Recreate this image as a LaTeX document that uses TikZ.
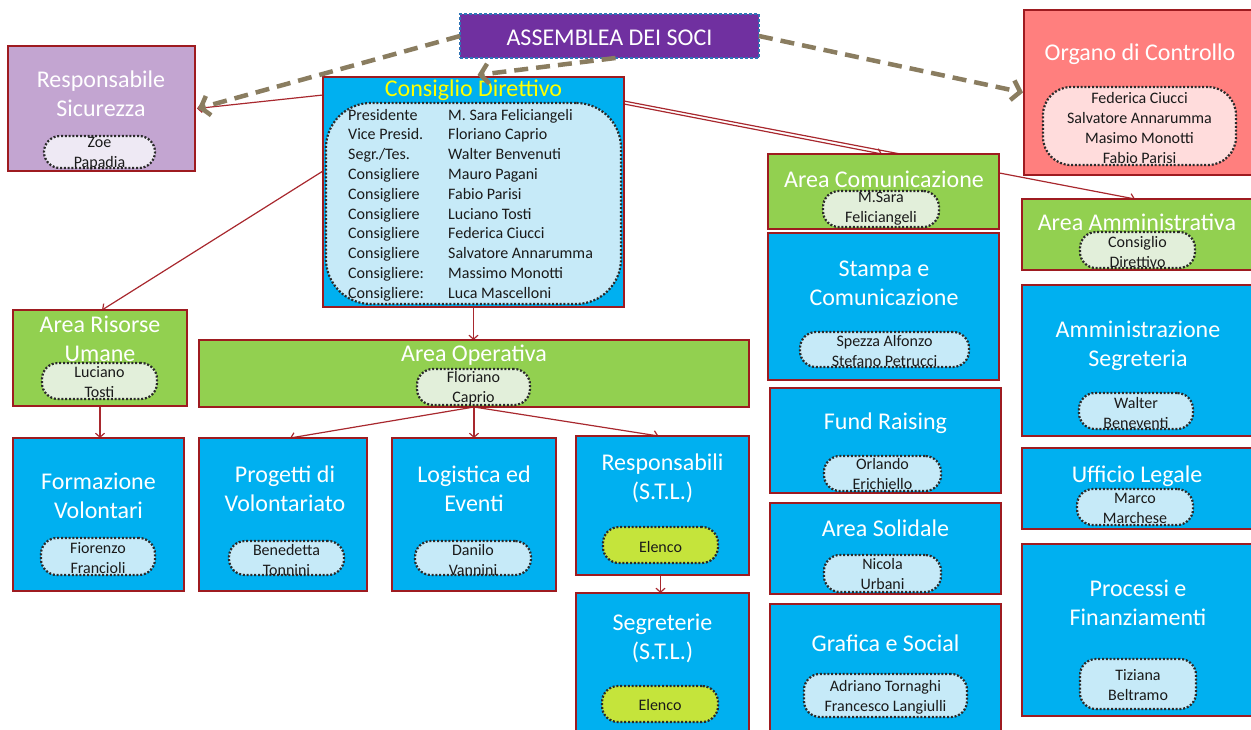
\documentclass[tikz,border=0pt]{standalone}
\usepackage{fontspec}
\setmainfont{Carlito}
\usetikzlibrary{arrows.meta}
\definecolor{cblue}{HTML}{00B0F0}
\definecolor{cgreen}{HTML}{92D050}
\definecolor{cborder}{HTML}{9E1B20}
\definecolor{cpurple}{HTML}{7030A0}
\definecolor{cdblue}{HTML}{2E75B6}
\definecolor{clav}{HTML}{C3A5D1}
\definecolor{csalmon}{HTML}{FF7F7E}
\definecolor{cpblue}{HTML}{C6EAF8}
\definecolor{cpgreen}{HTML}{E2EFDA}
\definecolor{cppink}{HTML}{FFDCDC}
\definecolor{cplav}{HTML}{EEE9F4}
\definecolor{celenco}{HTML}{C5E43B}
\definecolor{cdot}{HTML}{2A2A2A}
\definecolor{ctext}{HTML}{1A1A1A}
\definecolor{cline}{HTML}{A8282E}
\definecolor{cdash}{HTML}{8A7D60}
\definecolor{cyel}{HTML}{FFFF00}
\pgfdeclarelayer{bg}
\pgfsetlayers{bg,main}
\begin{document}
\begin{tikzpicture}[x=1pt,y=-1pt,
  box/.style={draw=cborder, line width=2.8pt, inner sep=0pt, outer sep=0pt, rectangle},
  ttl/.style={text=white, font=\fontsize{24}{29}\selectfont, align=center, inner sep=0pt},
  pill/.style={draw=cdot, line width=2.2pt, dash pattern=on 2pt off 1.8pt, rounded corners=16pt, inner sep=0pt, outer sep=0pt},
  ptxt/.style={text=ctext, font=\fontsize{16}{20}\selectfont, align=center, inner sep=0pt},
  rowtxt/.style={text=ctext, font=\fontsize{16}{20}\selectfont, inner sep=0pt, anchor=base west},
  conn/.style={draw=cline, line width=1.2pt, -{Straight Barb[length=4pt,width=9pt]}},
  socarrow/.style={draw=cdash, line width=4.5pt, dash pattern=on 14pt off 8pt, -{Straight Barb[length=8pt,width=20pt]}}
]
\useasboundingbox (0,0) rectangle (1251,729);
\clip (0,0) rectangle (1251,729);

% ---------- top ----------
\node[box, fill=cpurple, draw=cdblue, line width=1.5pt, dash pattern=on 3pt off 2pt, minimum width=299pt, minimum height=44pt] (assem) at (609.5,36) {};
\node[ttl] (assemT) at (609.5,38) {ASSEMBLEA DEI SOCI};

\node[box, fill=clav, minimum width=187pt, minimum height=125pt] (sicur) at (101.5,108.5) {};
\node[ttl] (sicurT) at (101,93.5) {Responsabile\\Sicurezza};
\node[pill, fill=cplav, minimum width=111pt, minimum height=32pt] (sicurP) at (99.5,152) {};
\node[ptxt] (sicurPT) at (99.5,154) {Zoe\\Papadia};

\node[box, fill=cblue, minimum width=301pt, minimum height=230pt] (consiglio) at (473.5,192) {};
\node[ttl, text=cyel] (consiglioT) at (473.5,90) {Consiglio Direttivo};
\node[pill, fill=cpblue, rounded corners=45pt, minimum width=295pt, minimum height=201pt] (consiglioP) at (473.5,203.5) {};
\node[rowtxt] (r1) at (348,120) {Presidente};
\node[rowtxt] (r2) at (348,139.8) {Vice Presid.};
\node[rowtxt] (r3) at (348,159.6) {Segr./Tes.};
\node[rowtxt] (r4) at (348,179.4) {Consigliere};
\node[rowtxt] (r5) at (348,199.2) {Consigliere};
\node[rowtxt] (r6) at (348,219) {Consigliere};
\node[rowtxt] (r7) at (348,238.8) {Consigliere};
\node[rowtxt] (r8) at (348,258.6) {Consigliere};
\node[rowtxt] (r9) at (348,278.4) {Consigliere:};
\node[rowtxt] (r10) at (348,298.2) {Consigliere:};
\node[rowtxt] (n1) at (448,120) {M. Sara Feliciangeli};
\node[rowtxt] (n2) at (448,139.8) {Floriano Caprio};
\node[rowtxt] (n3) at (448,159.6) {Walter Benvenuti};
\node[rowtxt] (n4) at (448,179.4) {Mauro Pagani};
\node[rowtxt] (n5) at (448,199.2) {Fabio Parisi};
\node[rowtxt] (n6) at (448,219) {Luciano Tosti};
\node[rowtxt] (n7) at (448,238.8) {Federica Ciucci};
\node[rowtxt] (n8) at (448,258.6) {Salvatore Annarumma};
\node[rowtxt] (n9) at (448,278.4) {Massimo Monotti};
\node[rowtxt] (n10) at (448,298.2) {Luca Mascelloni};

\node[box, fill=csalmon, minimum width=232pt, minimum height=165pt] (organo) at (1140,92.5) {};
\node[ttl] (organoT) at (1140,54) {Organo di Controllo};
\node[pill, fill=cppink, rounded corners=28pt, minimum width=193pt, minimum height=78pt] (organoP) at (1139.5,126) {};
\node[ptxt] (organoPT) at (1139.5,127.5) {Federica Ciucci\\Salvatore Annarumma\\Masimo Monotti\\Fabio Parisi};

% ---------- right columns ----------
\node[box, fill=cgreen, minimum width=231pt, minimum height=75pt] (acom) at (883.5,191.5) {};
\node[ttl] (acomT) at (884,179) {Area Comunicazione};
\node[pill, fill=cpgreen, minimum width=116pt, minimum height=36pt] (acomP) at (881,209) {};
\node[ptxt] (acomPT) at (881,209) {M.Sara\\Feliciangeli};

\node[box, fill=cgreen, minimum width=234pt, minimum height=71pt] (aamm) at (1139,234.5) {};
\node[ttl] (aammT) at (1137,222) {Area Amministrativa};
\node[pill, fill=cpgreen, minimum width=115pt, minimum height=36pt] (aammP) at (1137.5,250) {};
\node[ptxt] (aammPT) at (1137.5,251.5) {Consiglio\\Direttivo};

\node[box, fill=cblue, minimum width=231pt, minimum height=147pt] (stampa) at (883.5,306.5) {};
\node[ttl] (stampaT) at (884,283.5) {Stampa e\\Comunicazione};
\node[pill, fill=cpblue, minimum width=169pt, minimum height=35pt] (stampaP) at (884.5,349.5) {};
\node[ptxt] (stampaPT) at (884.5,350.5) {Spezza Alfonzo\\Stefano Petrucci};

\node[box, fill=cblue, minimum width=231pt, minimum height=105pt] (fund) at (885.5,440.5) {};
\node[ttl] (fundT) at (885.5,423) {Fund Raising};
\node[pill, fill=cpblue, minimum width=117pt, minimum height=35pt] (fundP) at (882.5,473.5) {};
\node[ptxt] (fundPT) at (882.5,474) {Orlando\\Erichiello};

\node[box, fill=cblue, minimum width=231pt, minimum height=91pt] (solid) at (885.5,548.5) {};
\node[ttl] (solidT) at (885.5,528) {Area Solidale};
\node[pill, fill=cpblue, minimum width=117pt, minimum height=37pt] (solidP) at (882.5,573.5) {};
\node[ptxt] (solidPT) at (882.5,574) {Nicola\\Urbani};

\node[box, fill=cblue, minimum width=231pt, minimum height=141pt] (grafica) at (885.5,674.5) {};
\node[ttl] (graficaT) at (885.5,643) {Grafica e Social};
\node[pill, fill=cpblue, minimum width=163pt, minimum height=43pt] (graficaP) at (885.5,695.5) {};
\node[ptxt] (graficaPT) at (885.5,697) {Adriano Tornaghi\\Francesco Langiulli};

\node[box, fill=cblue, minimum width=234pt, minimum height=151pt] (ammseg) at (1139,360.5) {};
\node[ttl] (ammsegT) at (1138,346) {Amministrazione\\Segreteria};
\node[pill, fill=cpblue, minimum width=114pt, minimum height=36pt] (ammsegP) at (1136,411) {};
\node[ptxt] (ammsegPT) at (1136,412.5) {Walter\\Beneventi};

\node[box, fill=cblue, minimum width=234pt, minimum height=81pt] (legale) at (1139,488.5) {};
\node[ttl] (legaleT) at (1137,476) {Ufficio Legale};
\node[pill, fill=cpblue, minimum width=116pt, minimum height=36pt] (legaleP) at (1135,507) {};
\node[ptxt] (legalePT) at (1135,508) {Marco\\Marchese};

\node[box, fill=cblue, minimum width=234pt, minimum height=172pt] (processi) at (1139,630) {};
\node[ttl] (processiT) at (1138,603) {Processi e\\Finanziamenti};
\node[pill, fill=cpblue, minimum width=116pt, minimum height=50pt] (processiP) at (1138,684) {};
\node[ptxt] (processiPT) at (1138,685) {Tiziana\\Beltramo};

% ---------- left / operative ----------
\node[box, fill=cgreen, minimum width=174pt, minimum height=96pt] (aru) at (100,358) {};
\node[ttl] (aruT) at (100,338.5) {Area Risorse\\Umane};
\node[pill, fill=cpgreen, minimum width=115pt, minimum height=36pt] (aruP) at (99.5,381) {};
\node[ptxt] (aruPT) at (99.5,382.5) {Luciano\\Tosti};

\node[box, fill=cgreen, minimum width=550pt, minimum height=67pt] (aop) at (474,373.5) {};
\node[ttl] (aopT) at (474,355) {Area Operativa};
\node[pill, fill=cpgreen, minimum width=113pt, minimum height=36pt] (aopP) at (473.5,387) {};
\node[ptxt] (aopPT) at (473.5,388.5) {Floriano\\Caprio};

\node[box, fill=cblue, minimum width=171pt, minimum height=153pt] (formaz) at (98.5,514.5) {};
\node[ttl] (formazT) at (98.5,496) {Formazione\\Volontari};
\node[pill, fill=cpblue, minimum width=114pt, minimum height=37pt] (formazP) at (98,556.5) {};
\node[ptxt] (formazPT) at (98,558.5) {Fiorenzo\\Francioli};

\node[box, fill=cblue, minimum width=168pt, minimum height=153pt] (progetti) at (283,514.5) {};
\node[ttl] (progettiT) at (285,488.5) {Progetti di\\Volontariato};
\node[pill, fill=cpblue, minimum width=115pt, minimum height=34pt] (progettiP) at (286.5,558) {};
\node[ptxt] (progettiPT) at (286.5,560) {Benedetta\\Tonnini};

\node[box, fill=cblue, minimum width=164pt, minimum height=153pt] (logistica) at (474,514.5) {};
\node[ttl] (logisticaT) at (474,488.5) {Logistica ed\\Eventi};
\node[pill, fill=cpblue, minimum width=116pt, minimum height=34pt] (logisticaP) at (473,558) {};
\node[ptxt] (logisticaPT) at (473,560) {Danilo\\Vannini};

\node[box, fill=cblue, minimum width=173pt, minimum height=139pt] (respons) at (662.5,505.5) {};
\node[ttl] (responsT) at (662.5,478) {Responsabili\\(S.T.L.)};
\node[pill, fill=celenco, minimum width=115pt, minimum height=36pt] (responsP) at (660.5,545) {};
\node[ptxt] (responsPT) at (660.5,546.5) {Elenco};

\node[box, fill=cblue, minimum width=173pt, minimum height=152pt] (segret) at (662.5,669) {};
\node[ttl] (segretT) at (662.5,638.5) {Segreterie\\(S.T.L.)};
\node[pill, fill=celenco, minimum width=116pt, minimum height=36pt] (segretP) at (660,704) {};
\node[ptxt] (segretPT) at (660,704.5) {Elenco};

% ---------- connectors ----------
\begin{pgfonlayer}{bg}
\draw[conn] ([yshift=-18pt]consiglio.north west) -- ([xshift=2pt]sicur.east);
\draw[conn] ([yshift=-94pt]consiglio.north west) -- ([xshift=2pt]aru.north);
\draw[conn] (consiglio.south) -- (consiglio.south |- aop.north);
\draw[conn] ([yshift=-27pt]consiglio.north east) -- ([xshift=-1.5pt]acom.north);
\draw[conn] ([yshift=-24pt]consiglio.north east) -- ([xshift=-4pt]aamm.north);
\draw[conn] (aru.south) -- (aru.south |- formaz.north);
\draw[conn] (aop.south) -- ([xshift=7pt]progetti.north);
\draw[conn] (aop.south) -- (logistica.north);
\draw[conn] (aop.south) -- ([xshift=-4pt]respons.north);
\draw[conn] ([xshift=-2pt]respons.south) -- ([xshift=-2pt]segret.north);
\end{pgfonlayer}
\draw[socarrow] (assem.west) -- ([xshift=3pt]sicur.east);
\draw[socarrow] ([xshift=6pt]assem.south) -- ([xshift=4pt,yshift=2pt]consiglio.north);
\draw[socarrow] (assem.east) -- ([xshift=-1pt]organo.west);
\end{tikzpicture}
\end{document}
